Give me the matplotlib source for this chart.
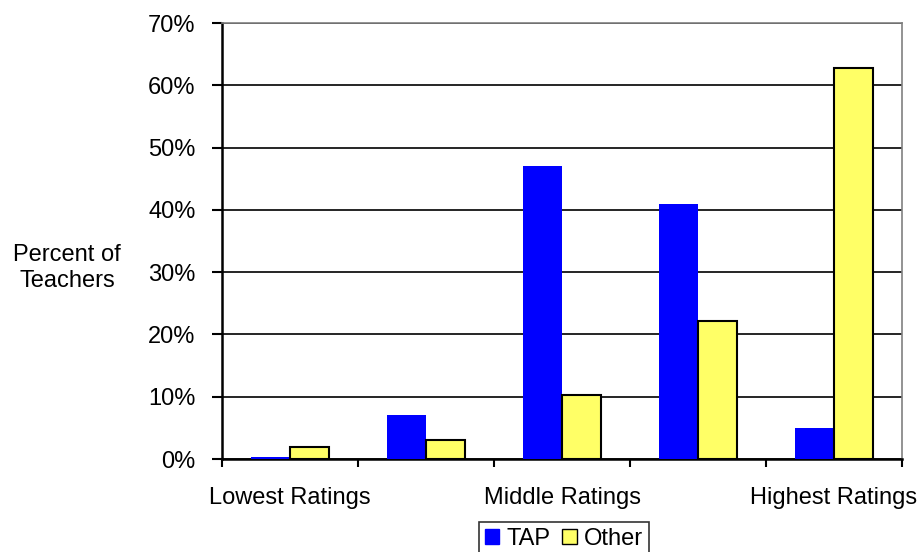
import matplotlib
matplotlib.use("Agg")
import matplotlib.pyplot as plt
import numpy as np
from matplotlib.ticker import FixedLocator, FuncFormatter

plt.rcParams['font.family'] = ['Liberation Sans', 'DejaVu Sans']

groups = [1, 2, 3, 4, 5]
tap = [0.4, 7.1, 47.0, 41.0, 5.0]
other = [1.9, 3.1, 10.3, 22.2, 62.8]
tick_labels = ["Lowest Ratings", "", "Middle Ratings", "", "Highest Ratings"]
series_names = ["TAP", "Other"]

FS = 17

fig = plt.figure(figsize=(9.21, 5.52), dpi=100)
ax = fig.add_axes([222/921, 93/552, 680/921, 436/552])

x = np.arange(len(groups))
w = 0.29
ax.bar(x - w/2, tap, width=w, color='#0000FF', edgecolor='#0000FF', linewidth=0, label=series_names[0], zorder=3)
ax.bar(x + w/2, other, width=w, color='#FFFF66', edgecolor='black', linewidth=1.5, label=series_names[1], zorder=3)

ax.set_xlim(-0.5, len(groups) - 0.5)
ax.set_ylim(0, 70)
ax.yaxis.set_major_locator(FixedLocator(np.arange(0, 71, 10)))
ax.yaxis.set_major_formatter(FuncFormatter(lambda v, p: f"{int(v)}%"))
ax.yaxis.grid(True, color='black', linewidth=1.2, zorder=0)
ax.set_axisbelow(True)

ax.set_xticks(x)
ax.set_xticklabels(tick_labels)
ax.tick_params(axis='x', which='major', length=0, pad=20, labelsize=FS)
ax.set_xticks(np.arange(-0.5, len(groups)), minor=True)
ax.tick_params(axis='x', which='minor', length=6, width=1.5, direction='out', color='black')
ax.tick_params(axis='y', length=7, width=1.5, direction='out', labelsize=FS, pad=12)

for s in ['left', 'bottom']:
    ax.spines[s].set_linewidth(1.8)
    ax.spines[s].set_color('black')
for s in ['top', 'right']:
    ax.spines[s].set_linewidth(1.2)
    ax.spines[s].set_color('#808080')

fig.text(67/921, 1 - 268/552, "Percent of\nTeachers", ha='center', va='center', fontsize=FS, linespacing=1.25)

leg = ax.legend(loc='upper center', bbox_to_anchor=(564/921, 30/552), bbox_transform=fig.transFigure,
                ncol=2, frameon=True, fancybox=False, fontsize=FS, handlelength=0.6, handleheight=0.6,
                handletextpad=0.3, columnspacing=0.5, borderpad=0.25, borderaxespad=0.0)
leg.get_frame().set_edgecolor('black')
leg.get_frame().set_linewidth(1.2)
for h in leg.legend_handles:
    h.set_linewidth(1.0)

fig.savefig("out.png", dpi=100)
